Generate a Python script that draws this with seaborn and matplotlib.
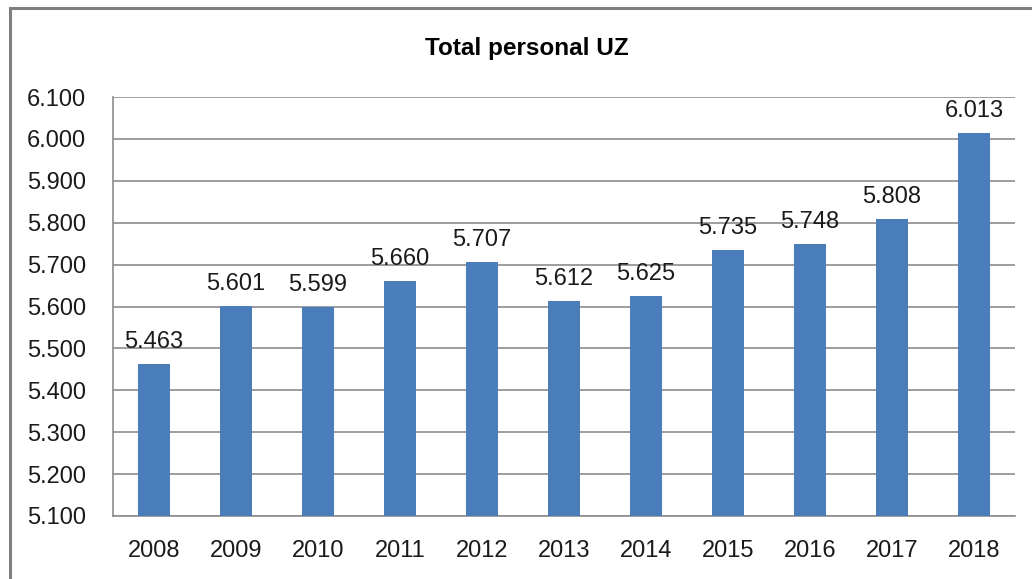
import matplotlib
matplotlib.use('Agg')
import matplotlib.pyplot as plt
import seaborn as sns
import pandas as pd
from matplotlib.patches import Rectangle

# datos
anios = ['2008', '2009', '2010', '2011', '2012', '2013', '2014', '2015', '2016', '2017', '2018']
personal = [5463, 5601, 5599, 5660, 5707, 5612, 5625, 5735, 5748, 5808, 6013]
y_ticks = [5100, 5200, 5300, 5400, 5500, 5600, 5700, 5800, 5900, 6000, 6100]

df = pd.DataFrame({'anio': anios, 'personal': personal})

sns.set_style('white')
plt.rcParams['font.family'] = ['Liberation Sans', 'DejaVu Sans']

def miles(v):
    return f'{v:,.0f}'.replace(',', '.')

fig = plt.figure(figsize=(10.32, 5.79), dpi=100)
ax = fig.add_axes([113 / 1032, 63 / 579, 902 / 1032, 419 / 579])

sns.barplot(data=df, x='anio', y='personal', color='#4a7ebb', width=0.38,
            saturation=1, linewidth=0, ax=ax, zorder=3)

ax.set_ylim(5100, 6100)
ax.set_yticks(y_ticks)
ax.set_yticklabels([miles(t) for t in y_ticks])
ax.yaxis.grid(True, color='#8c8c8c', linewidth=1.2, zorder=0)
ax.set_xlabel('')
ax.set_ylabel('')

for s in ['top', 'right']:
    ax.spines[s].set_visible(False)
for s in ['left', 'bottom']:
    ax.spines[s].set_color('#8c8c8c')
    ax.spines[s].set_linewidth(1.2)

ax.tick_params(axis='both', length=0, labelsize=17, labelcolor='#1a1a1a')
ax.tick_params(axis='y', pad=19.5)
ax.tick_params(axis='x', pad=17)

for i, v in enumerate(personal):
    ax.annotate(miles(v), (i, v), xytext=(0, 8), textcoords='offset points',
                ha='center', va='bottom', fontsize=17, color='#1a1a1a')

fig.text(527 / 1032, 1 - 48 / 579, 'Total personal UZ', ha='center', va='center',
         fontsize=17.5, fontweight='bold', color='#000000')

# marco gris del grafico
fig.patches.append(Rectangle((10 / 1032, -0.05), 1.1, 1.05 - 8 / 579,
                             transform=fig.transFigure, fill=False,
                             edgecolor='#7f7f7f', linewidth=2.2))

fig.savefig('out.png', dpi=100)
